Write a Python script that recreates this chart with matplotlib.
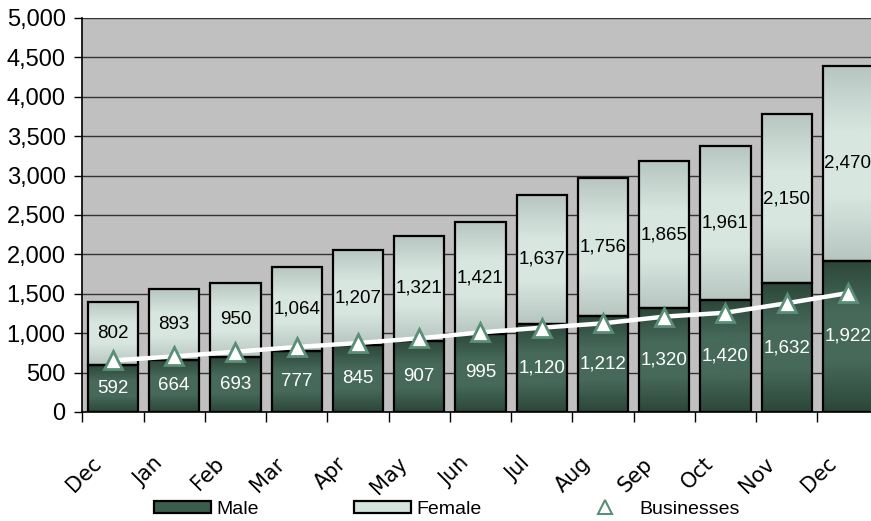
import numpy as np
import matplotlib
matplotlib.use('Agg')
import matplotlib.pyplot as plt
from matplotlib.colors import LinearSegmentedColormap
from matplotlib.patches import Patch
from matplotlib.lines import Line2D
from matplotlib.transforms import ScaledTranslation
from matplotlib.ticker import FuncFormatter, FixedLocator

months = ['Dec', 'Jan', 'Feb', 'Mar', 'Apr', 'May', 'Jun',
          'Jul', 'Aug', 'Sep', 'Oct', 'Nov', 'Dec']
male = [592, 664, 693, 777, 845, 907, 995, 1120, 1212, 1320, 1420, 1632, 1922]
female = [802, 893, 950, 1064, 1207, 1321, 1421, 1637, 1756, 1865, 1961, 2150, 2470]
businesses = [655, 705, 765, 825, 875, 935, 1010, 1070, 1125, 1210, 1260, 1380, 1510]


def shade_bars(ax, bars, c_end, c_mid):
    ''' vertical gradient inside each bar, clipped to the bar outline'''
    cmap = LinearSegmentedColormap.from_list('g', [c_end, c_mid, c_mid, c_end])
    t = np.linspace(0, 1, 100).reshape(-1, 1)
    for b in bars:
        x, y = b.get_x(), b.get_y()
        w, h = b.get_width(), b.get_height()
        im = ax.imshow(t, cmap=cmap, extent=[x, x + w, y, y + h],
                       aspect='auto', origin='lower', zorder=2)
        im.set_clip_path(b)


def main():
    plt.rcParams['font.family'] = ['Liberation Sans', 'DejaVu Sans']
    fig = plt.figure(figsize=(8.71, 5.21), dpi=100)
    ax = fig.add_axes([82.3 / 871, 109 / 521, 796.25 / 871, 394 / 521])
    ax.set_facecolor('#c0c0c0')

    x = np.arange(len(months))
    male_col, male_mid = '#2c4739', '#46695a'
    fem_col, fem_mid = '#b7c6c0', '#d8e6e0'

    bars_m = ax.bar(x, male, width=0.82, facecolor='none', edgecolor='black',
                    linewidth=1.6, zorder=3)
    bars_f = ax.bar(x, female, bottom=male, width=0.82, facecolor='none',
                    edgecolor='black', linewidth=1.6, zorder=3)
    shade_bars(ax, bars_m, male_col, male_mid)
    shade_bars(ax, bars_f, fem_col, fem_mid)

    ax.plot(x, businesses, color='white', linewidth=3.2, marker='^',
            markersize=13, markerfacecolor='white', markeredgecolor='#5a8f76',
            markeredgewidth=2, zorder=4)

    for i in range(len(months)):
        ax.text(x[i], male[i] / 2, '{:,}'.format(male[i]), color='white',
                ha='center', va='center', fontsize=13.5, zorder=5)
        ax.text(x[i], male[i] + female[i] / 2, '{:,}'.format(female[i]),
                color='black', ha='center', va='center', fontsize=13.5, zorder=5)

    ax.set_xlim(-0.5, 12.5)
    ax.set_ylim(0, 5000)
    ax.set_yticks(np.arange(0, 5001, 500))
    ax.yaxis.set_major_formatter(FuncFormatter(lambda v, p: '{:,}'.format(int(v))))
    ax.tick_params(axis='y', labelsize=17, length=6, width=1, color='black', pad=6)
    ax.grid(axis='y', color='#333333', linewidth=1, zorder=0)
    ax.set_axisbelow(True)

    ax.set_xticks(x)
    ax.set_xticklabels(months, rotation=45, ha='right', va='center',
                       rotation_mode='anchor', fontsize=15,
                       family=['DejaVu Sans'])
    ax.tick_params(axis='x', which='major', length=0, pad=35)
    ax.xaxis.set_minor_locator(FixedLocator(np.arange(-0.5, 13, 1)))
    ax.tick_params(axis='x', which='minor', length=7, width=1, color='black')
    for lab in ax.get_xticklabels():
        lab.set_transform(lab.get_transform() + ScaledTranslation(-0.15, 0, fig.dpi_scale_trans))

    for s in ['top', 'right']:
        ax.spines[s].set_visible(False)
    ax.spines['left'].set_color('black')
    ax.spines['bottom'].set_color('black')
    ax.spines['left'].set_linewidth(1.2)
    ax.spines['bottom'].set_linewidth(1.2)

    handles = [Patch(facecolor='#3b5e4c', edgecolor='black', linewidth=1.6),
               Patch(facecolor='#d5e3dd', edgecolor='black', linewidth=1.6),
               Line2D([], [], linestyle='none', marker='^', markersize=10,
                      markerfacecolor='white', markeredgecolor='#5a8f76',
                      markeredgewidth=1.5)]
    fig.legend(handles, ['Male', 'Female', 'Businesses'], loc='center',
               bbox_to_anchor=(0.513, 0.023), ncol=3, frameon=False,
               fontsize=14, handlelength=2.9, handleheight=0.6,
               handletextpad=0.3, columnspacing=4.9)

    fig.savefig('out.png', dpi=100)


if __name__ == '__main__':
    main()
